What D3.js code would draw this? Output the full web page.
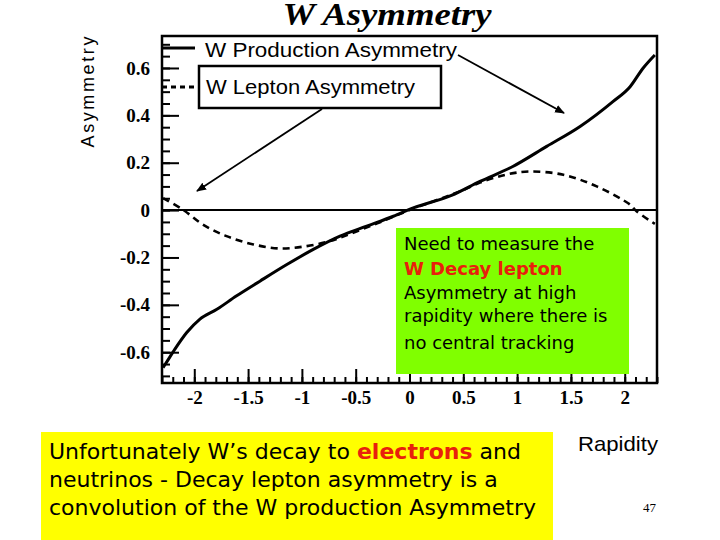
<!DOCTYPE html>
<meta charset="utf-8">
<style>
body { margin: 0; background: #fff; }
svg { display: block; }
.axis path { display: none; }
.axis line { stroke: #000; stroke-width: 2; }
.axis text { font-family: "Liberation Serif", "Times New Roman", serif; font-weight: bold; font-size: 19px; fill: #000; }
.note { font-family: "DejaVu Sans", sans-serif; }
</style>
<body>
<svg id="chart" width="720" height="540"></svg>
<script src="https://d3js.org/d3.v7.min.js"></script>
<script>
// rapidity vs asymmetry
var prodY = [-2.29, -2.27, -2.18, -2.07, -1.95, -1.79, -1.61, -1.39, -1.14, -0.894, -0.646, -0.398, -0.15, 0.035, 0.39, 0.655, 0.96, 1.275, 1.585, 1.89, 2.05, 2.17, 2.28];
var prodA = [-0.665, -0.651, -0.587, -0.517, -0.461, -0.419, -0.363, -0.30, -0.23, -0.166, -0.11, -0.068, -0.026, 0.009, 0.062, 0.121, 0.184, 0.269, 0.353, 0.458, 0.521, 0.599, 0.655];

var leptY = [-2.29, -2.1, -1.92, -1.70, -1.45, -1.20, -0.955, -0.74, -0.55, -0.3, 0, 0.3, 0.5, 0.655, 0.9, 1.12, 1.43, 1.74, 2.05, 2.11, 2.28];
var leptA = [0.051, 0, -0.061, -0.11, -0.145, -0.162, -0.152, -0.131, -0.1, -0.056, 0, 0.05, 0.085, 0.116, 0.15, 0.163, 0.149, 0.10, 0.023, -0.005, -0.058];

var xMajor = [-2, -1.5, -1, -0.5, 0, 0.5, 1, 1.5, 2];
var yMajor = [-0.6, -0.4, -0.2, 0, 0.2, 0.4, 0.6];

var greenLines = ["Need to measure the", "W Decay lepton", "Asymmetry at high", "rapidity where there is", "no central tracking"];

var svg = d3.select("#chart");
var pLeft = 162, pRight = 657, pTop = 36, pBottom = 383;

var x = d3.scaleLinear().domain([-2.3, 2.3]).range([pLeft, pRight]);
var y = d3.scaleLinear().domain([-0.73, 0.735]).range([pBottom, pTop]);

var xMinor = d3.range(-23, 24).map(function(d) { return d / 10; });
var yMinor = d3.range(-14, 15).map(function(d) { return d / 20; });

function fmt(d) { return String(+d.toFixed(2)); }

// title
svg.append("text").attr("x", 387).attr("y", 25).attr("text-anchor", "middle")
  .attr("textLength", 209).attr("lengthAdjust", "spacingAndGlyphs")
  .style("font-family", "Liberation Serif, serif").style("font-weight", "bold").style("font-style", "italic")
  .style("font-size", "32px").text("W Asymmetry");

// axes (ticks inward)
svg.append("g").attr("class", "axis").attr("transform", "translate(0," + pBottom + ")")
  .call(d3.axisBottom(x).tickValues(xMinor).tickSize(-6).tickFormat(""));
svg.append("g").attr("class", "axis").attr("transform", "translate(0," + pBottom + ")")
  .call(d3.axisBottom(x).tickValues(xMajor).tickSize(-14).tickPadding(8).tickFormat(fmt));
svg.append("g").attr("class", "axis").attr("transform", "translate(" + pLeft + ",0)")
  .call(d3.axisLeft(y).tickValues(yMinor).tickSize(-8).tickFormat(""));
svg.append("g").attr("class", "axis").attr("transform", "translate(" + pLeft + ",0)")
  .call(d3.axisLeft(y).tickValues(yMajor).tickSize(-17).tickPadding(12).tickFormat(fmt));

// zero line
svg.append("line").attr("x1", x(-2.3)).attr("x2", x(2.3)).attr("y1", y(0)).attr("y2", y(0))
  .attr("stroke", "#000").attr("stroke-width", 2);

// frame
svg.append("rect").attr("x", pLeft).attr("y", pTop).attr("width", pRight - pLeft).attr("height", pBottom - pTop)
  .attr("fill", "none").attr("stroke", "#000").attr("stroke-width", 2.5);

var line = d3.line().x(function(d) { return x(d[0]); }).y(function(d) { return y(d[1]); })
  .curve(d3.curveMonotoneX);
var lineD = d3.line().x(function(d) { return x(d[0]); }).y(function(d) { return y(d[1]); })
  .curve(d3.curveCatmullRom);

svg.append("path").datum(d3.zip(prodY, prodA)).attr("d", line)
  .attr("fill", "none").attr("stroke", "#000").attr("stroke-width", 3);
svg.append("path").datum(d3.zip(leptY, leptA)).attr("d", lineD)
  .attr("fill", "none").attr("stroke", "#000").attr("stroke-width", 2.6).attr("stroke-dasharray", "7,5");

// y title
svg.append("text").attr("transform", "translate(94,92) rotate(-90)").attr("text-anchor", "middle")
  .attr("textLength", 111).attr("lengthAdjust", "spacing")
  .style("font-family", "Liberation Sans, Arial, sans-serif").style("font-size", "18px").text("Asymmetry");

// legend
svg.append("line").attr("x1", pLeft).attr("x2", 195).attr("y1", 48).attr("y2", 48)
  .attr("stroke", "#000").attr("stroke-width", 3);
svg.append("text").attr("x", 205).attr("y", 57).attr("textLength", 252).attr("lengthAdjust", "spacingAndGlyphs")
  .style("font-family", "Liberation Sans, Arial, sans-serif").style("font-size", "20px").text("W Production Asymmetry");
svg.append("rect").attr("x", 199).attr("y", 66).attr("width", 242).attr("height", 42)
  .attr("fill", "#fff").attr("stroke", "#000").attr("stroke-width", 2.5);
svg.append("line").attr("x1", pLeft).attr("x2", 197).attr("y1", 87).attr("y2", 87)
  .attr("stroke", "#000").attr("stroke-width", 3).attr("stroke-dasharray", "5,4");
svg.append("text").attr("x", 206).attr("y", 94).attr("textLength", 209).attr("lengthAdjust", "spacingAndGlyphs")
  .style("font-family", "Liberation Sans, Arial, sans-serif").style("font-size", "20px").text("W Lepton Asymmetry");

// arrows
svg.append("defs").append("marker").attr("id", "head").attr("viewBox", "0 0 10 10")
  .attr("refX", 9).attr("refY", 5).attr("markerWidth", 10).attr("markerHeight", 10)
  .attr("markerUnits", "userSpaceOnUse").attr("orient", "auto")
  .append("path").attr("d", "M0,1L10,5L0,9z").attr("fill", "#000");
svg.append("line").attr("x1", 458).attr("y1", 55).attr("x2", 564).attr("y2", 113)
  .attr("stroke", "#000").attr("stroke-width", 1.8).attr("marker-end", "url(#head)");
svg.append("line").attr("x1", 322).attr("y1", 109).attr("x2", 197).attr("y2", 191)
  .attr("stroke", "#000").attr("stroke-width", 1.8).attr("marker-end", "url(#head)");

// green note
svg.append("rect").attr("x", 396).attr("y", 228).attr("width", 233).attr("height", 146).attr("fill", "#80ff00");
var gBase = [250, 275, 299, 322, 349];
svg.selectAll("text.gnote").data(greenLines).enter().append("text").attr("class", "note gnote")
  .attr("x", 404).attr("y", function(d, i) { return gBase[i]; })
  .style("font-size", "18px")
  .style("font-weight", function(d, i) { return i === 1 ? "bold" : "normal"; })
  .style("fill", function(d, i) { return i === 1 ? "#e8200c" : "#000"; })
  .text(function(d) { return d; });

// x title and page number
svg.append("text").attr("x", 578).attr("y", 451).attr("textLength", 80).attr("lengthAdjust", "spacingAndGlyphs")
  .style("font-family", "Liberation Sans, Arial, sans-serif").style("font-size", "21px").text("Rapidity");
svg.append("text").attr("x", 656).attr("y", 512).attr("text-anchor", "end")
  .style("font-family", "Liberation Serif, serif").style("font-size", "13px").text("47");

// yellow note
svg.append("rect").attr("x", 41).attr("y", 432).attr("width", 512).attr("height", 108).attr("fill", "#ffff00");
var y1 = svg.append("text").attr("class", "note").attr("x", 49).attr("y", 459).style("font-size", "22px");
y1.append("tspan").text("Unfortunately W\u2019s decay to ");
y1.append("tspan").style("fill", "#e8200c").style("font-weight", "bold").text("electrons");
y1.append("tspan").text(" and");
svg.append("text").attr("class", "note").attr("x", 49).attr("y", 487).style("font-size", "22px")
  .text("neutrinos - Decay lepton asymmetry is a");
svg.append("text").attr("class", "note").attr("x", 49).attr("y", 515).style("font-size", "22px")
  .text("convolution of the W production Asymmetry");
</script>
</body>
